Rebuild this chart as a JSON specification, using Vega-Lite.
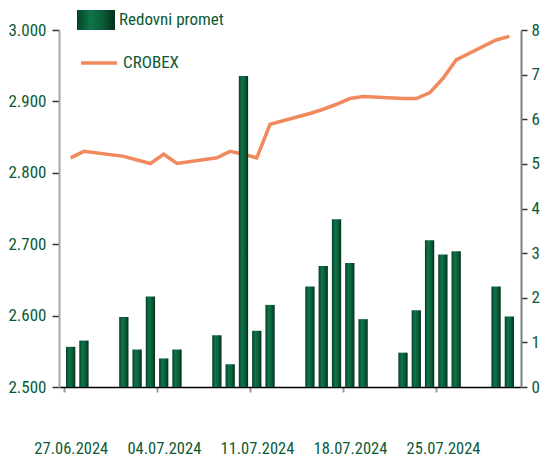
{
  "$schema": "https://vega.github.io/schema/vega-lite/v6.json",
  "width": 462,
  "height": 357,
  "autosize": {"type": "none"},
  "padding": {"left": 59, "top": 30, "right": 25, "bottom": 75},
  "background": "white",
  "config": {
    "view": {"stroke": null},
    "font": "Roboto Condensed, Open Sans Condensed, Liberation Sans Narrow, DejaVu Sans Condensed, sans-serif",
    "axis": {"grid": false, "labelFont": "Roboto Condensed, Open Sans Condensed, Liberation Sans Narrow, DejaVu Sans Condensed, sans-serif"},
    "legend": {"labelFont": "Roboto Condensed, Open Sans Condensed, Liberation Sans Narrow, DejaVu Sans Condensed, sans-serif"}
  },
  "data": {
    "values": [
      {"date": "2024-06-27T12:00:00", "crobex": 2821, "promet": 0.90},
      {"date": "2024-06-28T12:00:00", "crobex": 2830, "promet": 1.04},
      {"date": "2024-07-01T12:00:00", "crobex": 2823, "promet": 1.57},
      {"date": "2024-07-02T12:00:00", "crobex": 2818, "promet": 0.84},
      {"date": "2024-07-03T12:00:00", "crobex": 2813, "promet": 2.03},
      {"date": "2024-07-04T12:00:00", "crobex": 2826, "promet": 0.64},
      {"date": "2024-07-05T12:00:00", "crobex": 2813, "promet": 0.84},
      {"date": "2024-07-08T12:00:00", "crobex": 2821, "promet": 1.16},
      {"date": "2024-07-09T12:00:00", "crobex": 2830, "promet": 0.51},
      {"date": "2024-07-10T12:00:00", "crobex": 2826, "promet": 6.97},
      {"date": "2024-07-11T12:00:00", "crobex": 2821, "promet": 1.26},
      {"date": "2024-07-12T12:00:00", "crobex": 2868, "promet": 1.84},
      {"date": "2024-07-15T12:00:00", "crobex": 2883, "promet": 2.25},
      {"date": "2024-07-16T12:00:00", "crobex": 2889, "promet": 2.71},
      {"date": "2024-07-17T12:00:00", "crobex": 2896, "promet": 3.76},
      {"date": "2024-07-18T12:00:00", "crobex": 2904, "promet": 2.78},
      {"date": "2024-07-19T12:00:00", "crobex": 2907, "promet": 1.52},
      {"date": "2024-07-22T12:00:00", "crobex": 2904, "promet": 0.77},
      {"date": "2024-07-23T12:00:00", "crobex": 2904, "promet": 1.72},
      {"date": "2024-07-24T12:00:00", "crobex": 2912, "promet": 3.29},
      {"date": "2024-07-25T12:00:00", "crobex": 2932, "promet": 2.97},
      {"date": "2024-07-26T12:00:00", "crobex": 2958, "promet": 3.04},
      {"date": "2024-07-29T12:00:00", "crobex": 2986, "promet": 2.25},
      {"date": "2024-07-30T12:00:00", "crobex": 2991, "promet": 1.58}
    ]
  },
  "encoding": {
    "x": {
      "field": "date",
      "type": "temporal",
      "scale": {"domain": [{"year": 2024, "month": 6, "date": 27}, {"year": 2024, "month": 7, "date": 31}]},
      "axis": {
        "title": null,
        "values": [
          {"year": 2024, "month": 6, "date": 27},
          {"year": 2024, "month": 7, "date": 4},
          {"year": 2024, "month": 7, "date": 11},
          {"year": 2024, "month": 7, "date": 18},
          {"year": 2024, "month": 7, "date": 25}
        ],
        "format": "%d.%m.%Y",
        "labelOffset": 6.8,
        "labelPadding": 48,
        "labelFlush": false,
        "labelOverlap": false,
        "labelFontSize": 16.5,
        "labelColor": "#0b5a35",
        "tickSize": 5,
        "tickColor": "#9a9a9a",
        "tickWidth": 2,
        "domainColor": "#000000",
        "domainWidth": 1.5
      }
    }
  },
  "layer": [
    {
      "mark": {"type": "line", "strokeWidth": 3.5, "interpolate": "linear"},
      "encoding": {
        "y": {
          "field": "crobex",
          "type": "quantitative",
          "scale": {"domain": [2500, 3000], "zero": false},
          "axis": {
            "orient": "left",
            "title": null,
            "values": [2500, 2600, 2700, 2800, 2900, 3000],
            "labelExpr": "replace(format(datum.value, ','), ',', '.')",
            "labelFontSize": 17,
            "labelColor": "#0b5a35",
            "labelPadding": 6,
            "tickSize": 7,
            "tickColor": "#333333",
            "tickWidth": 1.5,
            "domainColor": "#a6a6a6",
            "domainWidth": 2
          }
        },
        "stroke": {
          "datum": "CROBEX",
          "scale": {"domain": ["CROBEX"], "range": ["#f08a5d"]},
          "legend": {
            "orient": "none",
            "legendX": 20,
            "legendY": 13,
            "title": null,
            "padding": 0,
            "symbolType": "stroke",
            "symbolSize": 1296,
            "symbolStrokeWidth": 3.5,
            "labelFontSize": 17,
            "labelColor": "#0b5a35",
            "labelOffset": 4
          }
        }
      }
    },
    {
      "mark": {
        "type": "bar",
        "width": 9.3,
        "color": {
          "gradient": "linear",
          "x1": 0, "x2": 1, "y1": 0, "y2": 0,
          "stops": [
            {"offset": 0, "color": "#04402a"},
            {"offset": 0.35, "color": "#0f7548"},
            {"offset": 0.7, "color": "#0a5a37"},
            {"offset": 1, "color": "#03301c"}
          ]
        }
      },
      "encoding": {
        "y": {
          "field": "promet",
          "type": "quantitative",
          "scale": {"domain": [0, 8]},
          "axis": {
            "orient": "right",
            "title": null,
            "values": [0, 1, 2, 3, 4, 5, 6, 7, 8],
            "labelFontSize": 17,
            "labelColor": "#0b5a35",
            "labelPadding": 4,
            "tickSize": 6,
            "tickColor": "#333333",
            "tickWidth": 1.5,
            "domainColor": "#7f7f7f",
            "domainWidth": 2
          }
        },
        "opacity": {
          "datum": "Redovni promet",
          "type": "nominal",
          "scale": {"type": "ordinal", "domain": ["Redovni promet"], "range": [1]},
          "legend": {
            "orient": "none",
            "legendX": 18,
            "legendY": -29,
            "title": null,
            "padding": 0,
            "symbolType": "M-1,-0.53H1V0.53H-1Z",
            "symbolSize": 1444,
            "symbolStrokeWidth": 0,
            "symbolFillColor": "#0a5a37",
            "labelFontSize": 17,
            "labelColor": "#0b5a35",
            "labelOffset": 4
          }
        }
      }
    }
  ],
  "resolve": {"scale": {"y": "independent", "opacity": "independent", "stroke": "independent"}}
}
